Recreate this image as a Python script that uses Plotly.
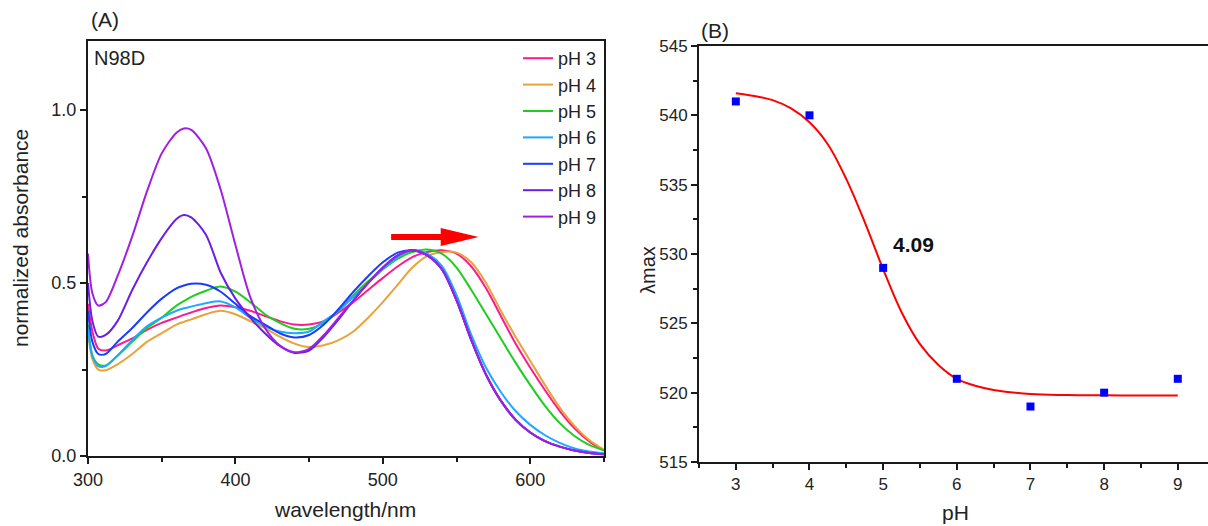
import plotly.graph_objects as go

# ---------------- data: panel A (UV-vis spectra) ----------------
wavelength = [300, 303, 307, 312, 320, 330, 340, 350, 360, 365, 370, 380, 390, 400, 410, 420,
              430, 440, 450, 460, 470, 480, 490, 500, 510, 520, 530, 540, 550, 560, 570,
              580, 590, 600, 610, 620, 630, 640, 650]

abs_ph3 = [0.44, 0.36, 0.31, 0.305, 0.32, 0.34, 0.365, 0.385, 0.40, 0.408, 0.415, 0.428, 0.435, 0.43,
           0.42, 0.405, 0.39, 0.38, 0.38, 0.39, 0.415, 0.445, 0.48, 0.515, 0.548, 0.575, 0.59,
           0.595, 0.585, 0.548, 0.485, 0.405, 0.325, 0.255, 0.19, 0.13, 0.08, 0.042, 0.016]
abs_ph4 = [0.36, 0.28, 0.25, 0.248, 0.265, 0.295, 0.33, 0.355, 0.38, 0.388, 0.395, 0.41, 0.42, 0.41,
           0.39, 0.37, 0.345, 0.325, 0.315, 0.32, 0.335, 0.36, 0.40, 0.445, 0.495, 0.545, 0.578,
           0.59, 0.588, 0.56, 0.50, 0.42, 0.345, 0.275, 0.205, 0.14, 0.087, 0.046, 0.018]
abs_ph5 = [0.38, 0.29, 0.265, 0.262, 0.29, 0.33, 0.37, 0.40, 0.435, 0.448, 0.46, 0.478, 0.49, 0.475,
           0.445, 0.41, 0.385, 0.368, 0.368, 0.385, 0.42, 0.465, 0.505, 0.54, 0.57, 0.59, 0.597,
           0.585, 0.545, 0.48, 0.41, 0.34, 0.27, 0.205, 0.145, 0.095, 0.058, 0.032, 0.016]
abs_ph6 = [0.37, 0.29, 0.26, 0.26, 0.29, 0.335, 0.375, 0.40, 0.42, 0.427, 0.432, 0.442, 0.447, 0.43,
           0.40, 0.375, 0.36, 0.355, 0.36, 0.39, 0.42, 0.46, 0.50, 0.54, 0.575, 0.595, 0.585,
           0.55, 0.465, 0.35, 0.255, 0.185, 0.13, 0.09, 0.06, 0.038, 0.022, 0.013, 0.008]
abs_ph7 = [0.42, 0.33, 0.295, 0.295, 0.33, 0.37, 0.415, 0.455, 0.485, 0.493, 0.498, 0.495, 0.475, 0.44,
           0.405, 0.38, 0.355, 0.343, 0.35, 0.38, 0.425, 0.475, 0.52, 0.56, 0.588, 0.595, 0.58,
           0.54, 0.45, 0.335, 0.235, 0.16, 0.105, 0.068, 0.043, 0.027, 0.016, 0.009, 0.005]
abs_ph8 = [0.50, 0.39, 0.345, 0.35, 0.39, 0.48, 0.56, 0.63, 0.685, 0.697, 0.69, 0.64, 0.53, 0.455,
           0.40, 0.355, 0.318, 0.298, 0.305, 0.345, 0.395, 0.45, 0.50, 0.545, 0.58, 0.595, 0.58,
           0.54, 0.45, 0.335, 0.235, 0.16, 0.105, 0.068, 0.043, 0.027, 0.016, 0.009, 0.005]
abs_ph9 = [0.585, 0.47, 0.435, 0.445, 0.52, 0.635, 0.765, 0.875, 0.935, 0.947, 0.943, 0.89, 0.77, 0.61,
           0.46, 0.37, 0.32, 0.30, 0.31, 0.35, 0.40, 0.45, 0.50, 0.545, 0.58, 0.595, 0.58,
           0.54, 0.45, 0.335, 0.235, 0.16, 0.105, 0.068, 0.043, 0.027, 0.016, 0.009, 0.005]

spectra_labels = ["pH 3", "pH 4", "pH 5", "pH 6", "pH 7", "pH 8", "pH 9"]
spectra_values = [abs_ph3, abs_ph4, abs_ph5, abs_ph6, abs_ph7, abs_ph8, abs_ph9]
spectra_colors = ["#FF1A8C", "#E8A33A", "#1FCC1F", "#1EA8FF", "#1A3CFF", "#6A1FE6", "#A01FE0"]

# ---------------- data: panel B (lambda max vs pH) ----------------
ph_values = [3, 4, 5, 6, 7, 8, 9]
lambda_max = [541, 540, 529, 521, 519, 520, 521]

fit_ph = [3.0, 3.25, 3.5, 3.75, 4.0, 4.25, 4.5, 4.75, 5.0, 5.25, 5.5, 5.75, 6.0, 6.25, 6.5,
          7.0, 7.5, 8.0, 8.5, 9.0]
fit_lambda = [541.6, 541.4, 541.1, 540.5, 539.5, 537.9, 535.4, 532.3, 528.9, 525.8, 523.5,
              522.0, 521.0, 520.5, 520.2, 519.9, 519.83, 519.81, 519.8, 519.8]

pka_label = "4.09"
arrow_start_nm, arrow_end_nm, arrow_level = 505.6, 565.0, 0.633

FONT = "Arial, Liberation Sans, sans-serif"
AX = "#1a1a1a"
W, H = 1208, 526


def px_x(p):
    return p / W


def px_y(p):
    return 1 - p / H


fig = go.Figure()

for i, (lab, vals, col) in enumerate(zip(spectra_labels, spectra_values, spectra_colors)):
    fig.add_trace(go.Scatter(
        x=wavelength, y=vals, mode="lines", name=lab,
        line=dict(color=col, width=2, shape="spline", smoothing=0.8),
        legendgroup=lab, xaxis="x", yaxis="y", showlegend=True))

fig.add_trace(go.Scatter(
    x=fit_ph, y=fit_lambda, mode="lines", line=dict(color="#FF0000", width=2, shape="spline"),
    xaxis="x2", yaxis="y2", showlegend=False))
fig.add_trace(go.Scatter(
    x=ph_values, y=lambda_max, mode="markers",
    marker=dict(symbol="square", size=8, color="#0000FF"),
    xaxis="x2", yaxis="y2", showlegend=False))

axis_common = dict(showgrid=False, zeroline=False, showline=True, linecolor=AX, linewidth=2,
                   ticks="outside", ticklen=6, tickwidth=1.5, tickcolor=AX, automargin=False)

tick_a = dict(family=FONT, size=18, color="#222")
tick_b = dict(family=FONT, size=17, color="#222")

fig.update_layout(
    template="none",
    width=W, height=H, margin=dict(l=0, r=0, t=0, b=0, pad=0),
    paper_bgcolor="white", plot_bgcolor="white",
    font=dict(family=FONT, color="#222"),
    xaxis=dict(domain=[px_x(88), px_x(604)], range=[300, 650], anchor="y", mirror=True,
               tickvals=[300, 400, 500, 600], tickfont=tick_a,
               minor=dict(ticks="outside", ticklen=4, tickwidth=1.5, tickcolor=AX, dtick=50, tick0=300),
               **axis_common),
    yaxis=dict(domain=[px_y(456), px_y(41)], range=[0, 1.2], anchor="x", mirror=True,
               tickvals=[0, 0.5, 1.0], tickformat=".1f", tickfont=tick_a,
               minor=dict(ticks="outside", ticklen=4, tickwidth=1.5, tickcolor=AX, dtick=0.25, tick0=0),
               **axis_common),
    xaxis2=dict(domain=[px_x(699), 1.0], range=[2.5, 9.41], anchor="y2", mirror=True,
                tickvals=[3, 4, 5, 6, 7, 8, 9], tickfont=tick_b,
                minor=dict(ticks="outside", ticklen=4, tickwidth=1.5, tickcolor=AX, dtick=0.5, tick0=2.5),
                **axis_common),
    yaxis2=dict(domain=[px_y(462), px_y(46)], range=[515, 545], anchor="x2", mirror=False,
                tickvals=[515, 520, 525, 530, 535, 540, 545], tickfont=tick_b,
                minor=dict(ticks="outside", ticklen=4, tickwidth=1.5, tickcolor=AX, dtick=2.5, tick0=515),
                **axis_common),
    legend=dict(x=px_x(602), y=px_y(40), xanchor="right", yanchor="top",
                bgcolor="rgba(0,0,0,0)", font=dict(family=FONT, size=18, color="#222"),
                tracegroupgap=0, itemwidth=30),
)

annotations = [
    dict(text="(A)", x=px_x(89), y=px_y(20), xanchor="left", yanchor="middle", font=dict(size=21)),
    dict(text="(B)", x=px_x(699), y=px_y(30), xanchor="left", yanchor="middle", font=dict(size=21)),
    dict(text="N98D", x=px_x(92), y=px_y(58), xanchor="left", yanchor="middle", font=dict(size=20)),
    dict(text="normalized absorbance", x=px_x(20), y=px_y(238), textangle=-90,
         xanchor="center", yanchor="middle", font=dict(size=21)),
    dict(text="wavelength/nm", x=px_x(345), y=px_y(509), xanchor="center", yanchor="middle",
         font=dict(size=21)),
    dict(text="λmax", x=px_x(648), y=px_y(270), textangle=-90, xanchor="center", yanchor="middle",
         font=dict(size=20)),
    dict(text="pH", x=px_x(955), y=px_y(512), xanchor="center", yanchor="middle", font=dict(size=21)),
]
for a in annotations:
    a.update(xref="paper", yref="paper", showarrow=False)
    a["font"].update(family=FONT, color="#222")
    fig.add_annotation(**a)

fig.add_annotation(text="<b>" + pka_label + "</b>", x=5.1, y=530.65, xref="x2", yref="y2",
                   xanchor="left", yanchor="middle", showarrow=False,
                   font=dict(family=FONT, size=21, color="#111"))

# red arrow indicating the red shift
fig.add_shape(type="line", xref="x", yref="y", x0=arrow_start_nm, x1=arrow_end_nm - 15,
              y0=arrow_level, y1=arrow_level, line=dict(color="#FF0000", width=6))
fig.add_shape(type="path", xref="x", yref="y", xsizemode="pixel", ysizemode="pixel",
              xanchor=arrow_end_nm, yanchor=arrow_level,
              path="M -38,-9 L 0,0 L -38,9 Z", fillcolor="#FF0000", line=dict(width=0))

fig.write_html("out.html", config={"displayModeBar": False},
               post_script="document.body.style.margin='0px';document.body.style.overflow='hidden';")
